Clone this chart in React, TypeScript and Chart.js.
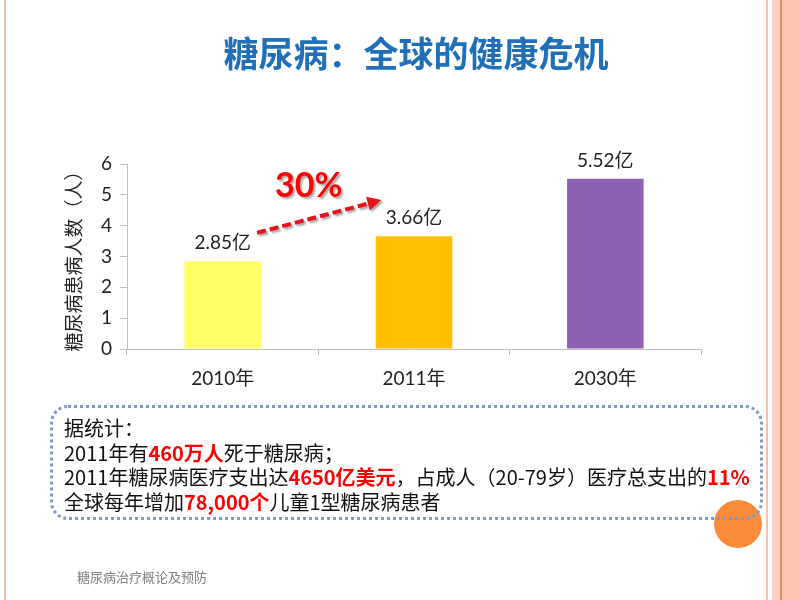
import React, { useEffect, useRef } from 'react';
import { Chart, registerables } from 'chart.js';

Chart.register(...registerables);

// ---- data ----
const categories = ['2010年', '2011年', '2030年'];
const patients = [2.85, 3.66, 5.52];
const valueUnit = '亿';
const barColors = ['#FFFF66', '#FFC000', '#8E62B2'];
const yMin = 0;
const yMax = 6;
const yStep = 1;
const yTitle = '糖尿病患病人数（人）';
const growthLabel = '30%';
const slideTitle = '糖尿病：全球的健康危机';
const footerText = '糖尿病治疗概论及预防';

const tickFont = "Lato, 'Noto Sans CJK SC', sans-serif";
const cjkFont = "'Noto Sans CJK SC', sans-serif";

const overlayPlugin = {
  id: 'overlay',
  afterDatasetsDraw(chart: any) {
    const ctx = chart.ctx as CanvasRenderingContext2D;
    const meta = chart.getDatasetMeta(0);
    ctx.save();
    ctx.font = `19px ${tickFont}`;
    ctx.fillStyle = '#222';
    ctx.textAlign = 'center';
    ctx.textBaseline = 'alphabetic';
    meta.data.forEach((bar: any, i: number) => {
      ctx.fillText(patients[i] + valueUnit, bar.x, bar.y - 12);
    });

    const xs = chart.scales.x;
    const ys = chart.scales.y;
    const x1 = xs.getPixelForValue(0.18);
    const y1 = ys.getPixelForValue(3.77);
    const x2 = xs.getPixelForValue(0.83);
    const y2 = ys.getPixelForValue(4.83);
    const ang = Math.atan2(y2 - y1, x2 - x1);
    const headLen = 14;
    const headW = 7;
    const bx = x2 - Math.cos(ang) * headLen;
    const by = y2 - Math.sin(ang) * headLen;

    ctx.shadowColor = 'rgba(0,0,0,0.35)';
    ctx.shadowOffsetX = 2;
    ctx.shadowOffsetY = 2;
    ctx.shadowBlur = 2;
    ctx.strokeStyle = '#E8121A';
    ctx.fillStyle = '#E8121A';
    ctx.lineWidth = 4;
    ctx.setLineDash([9, 4]);
    ctx.beginPath();
    ctx.moveTo(x1, y1);
    ctx.lineTo(bx, by);
    ctx.stroke();
    ctx.setLineDash([]);
    ctx.beginPath();
    ctx.moveTo(x2, y2);
    ctx.lineTo(bx - Math.sin(ang) * headW, by + Math.cos(ang) * headW);
    ctx.lineTo(bx + Math.sin(ang) * headW, by - Math.cos(ang) * headW);
    ctx.closePath();
    ctx.fill();

    ctx.font = `bold 34px ${tickFont}`;
    ctx.fillStyle = '#FF0000';
    ctx.textAlign = 'center';
    ctx.textBaseline = 'middle';
    ctx.fillText(growthLabel, xs.getPixelForValue(0.45), ys.getPixelForValue(5.28));
    ctx.restore();
  },
};

export default function App() {
  const canvasRef = useRef<HTMLCanvasElement | null>(null);

  useEffect(() => {
    if (!canvasRef.current) return;
    const chart = new Chart(canvasRef.current, {
      type: 'bar',
      data: {
        labels: categories,
        datasets: [
          {
            data: patients,
            backgroundColor: barColors,
            borderWidth: 0,
            categoryPercentage: 0.5,
            barPercentage: 0.8,
          },
        ],
      },
      options: {
        responsive: false,
        animation: false,
        layout: { padding: { left: 50, right: 99, top: 164, bottom: 211 } },
        plugins: {
          legend: { display: false },
          tooltip: { enabled: false },
          title: { display: false },
        },
        scales: {
          x: {
            afterFit: (s: any) => {
              s.height = 40;
            },
            grid: {
              offset: true,
              drawOnChartArea: false,
              drawTicks: true,
              tickLength: 6,
              color: '#BFBFBF',
            },
            border: { display: true, color: '#BFBFBF', width: 1 },
            ticks: {
              color: '#222',
              padding: 12,
              font: { size: 19, family: tickFont },
            },
          },
          y: {
            min: yMin,
            max: yMax,
            afterFit: (s: any) => {
              s.width = 77;
            },
            grid: {
              drawOnChartArea: false,
              drawTicks: true,
              tickLength: 7,
              color: '#BFBFBF',
            },
            border: { display: true, color: '#BFBFBF', width: 1 },
            ticks: {
              stepSize: yStep,
              color: '#222',
              padding: 8,
              font: { size: 19, family: tickFont },
            },
            title: {
              display: true,
              text: yTitle,
              color: '#222',
              font: { size: 19, family: cjkFont },
              padding: { top: 12, bottom: 0 },
            },
          },
        },
      },
      plugins: [overlayPlugin],
    } as any);
    return () => chart.destroy();
  }, []);

  const red = { color: '#FF0000', fontWeight: 700 } as React.CSSProperties;

  return (
    <div
      style={{
        position: 'absolute',
        left: 0,
        top: 0,
        width: 800,
        height: 600,
        background: '#fff',
        overflow: 'hidden',
        fontFamily: cjkFont,
      }}
    >
      <canvas
        ref={canvasRef}
        width={800}
        height={600}
        style={{ position: 'absolute', left: 0, top: 0, width: 800, height: 600 }}
      />
      {/* slide borders */}
      <div style={{ position: 'absolute', left: 4, top: 0, width: 2, height: 600, background: '#F6C3AE' }} />
      <div style={{ position: 'absolute', left: 766, top: 0, width: 2, height: 600, background: '#F8C0AB' }} />
      <div style={{ position: 'absolute', left: 772, top: 0, width: 8, height: 600, background: '#FCD3C2' }} />
      <div style={{ position: 'absolute', left: 780, top: 0, width: 1.5, height: 600, background: '#EC8A55' }} />
      <div style={{ position: 'absolute', left: 781.5, top: 0, width: 18.5, height: 600, background: '#FBC4AE' }} />

      {/* title */}
      <div
        style={{
          position: 'absolute',
          left: 116,
          top: 32,
          width: 600,
          textAlign: 'center',
          whiteSpace: 'nowrap',
          fontSize: 35,
          lineHeight: '40px',
          fontWeight: 700,
          color: '#1F70B8',
        }}
      >
        {slideTitle}
      </div>

      {/* orange circle */}
      <div
        style={{
          position: 'absolute',
          left: 714,
          top: 500,
          width: 48,
          height: 48,
          borderRadius: '50%',
          background: '#F98B3B',
        }}
      />

      {/* text box */}
      <div
        style={{
          position: 'absolute',
          left: 50,
          top: 405,
          width: 713,
          height: 115,
          boxSizing: 'border-box',
          border: '3px dotted #7F97C9',
          borderRadius: 18,
        }}
      />
      <div
        style={{
          position: 'absolute',
          left: 64,
          top: 416,
          whiteSpace: 'nowrap',
          fontSize: 20,
          lineHeight: '24.5px',
          color: '#111',
        }}
      >
        <div>据统计：</div>
        <div>
          2011年有<span style={red}>460万人</span>死于糖尿病；
        </div>
        <div>
          2011年糖尿病医疗支出达<span style={red}>4650亿美元</span>，占成人（20-79岁）医疗总支出的
          <span style={red}>11%</span>
        </div>
        <div>
          全球每年增加<span style={red}>78,000个</span>儿童1型糖尿病患者
        </div>
      </div>

      {/* footer */}
      <div
        style={{
          position: 'absolute',
          left: 77,
          top: 568,
          fontSize: 13,
          lineHeight: '18px',
          color: '#808080',
          whiteSpace: 'nowrap',
        }}
      >
        {footerText}
      </div>
    </div>
  );
}
